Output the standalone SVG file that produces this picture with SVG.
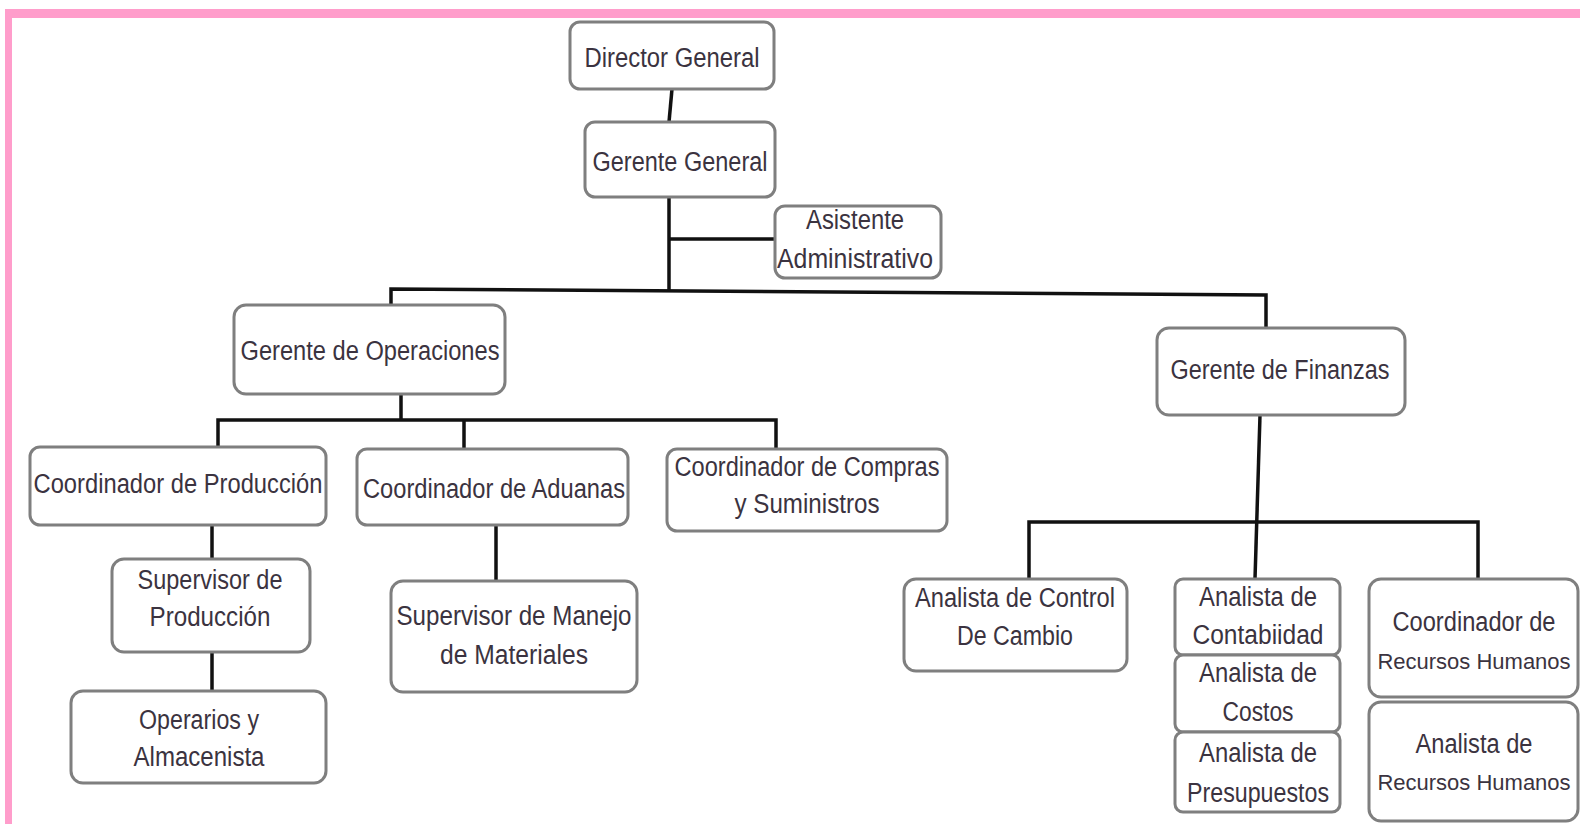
<svg xmlns="http://www.w3.org/2000/svg" width="1580" height="824" viewBox="0 0 1580 824">
<style>
.box{fill:#fff;stroke:#7f7f7f;stroke-width:3}
.t{font-family:"Liberation Sans Narrow","Liberation Sans",sans-serif;font-size:27px;fill:#3b3340;text-anchor:middle}
.s{font-size:22px}
.c{fill:none;stroke:#111;stroke-width:3.5;stroke-linejoin:miter}
</style>
<rect x="0" y="0" width="1580" height="824" fill="#fff"/>
<g id="frame">
<rect x="5" y="9" width="1575" height="9" fill="#ff9dcb"/>
<rect x="5" y="9" width="7" height="815" fill="#ff9dcb"/>
</g>
<g id="connectors">
<path class="c" d="M672,89 L669,122"/>
<path class="c" d="M669,196 V291 M669,239 H775"/>
<path class="c" d="M391,305 V289 L1266,295 V328"/>
<path class="c" d="M401,394 V420 M218,447 V420 H776 V449 M464,420 V449"/>
<path class="c" d="M212,525 V559 M212,652 V691"/>
<path class="c" d="M496,525 V581"/>
<path class="c" d="M1260,415 L1255,579"/>
<path class="c" d="M1029,579 V522 H1478 V579"/>
</g>
<g id="n-director">
<rect class="box" x="570" y="22" width="204" height="67" rx="10"/>
<text class="t" x="672" y="67" textLength="175" lengthAdjust="spacingAndGlyphs">Director General</text>
</g>
<g id="n-gerente-general">
<rect class="box" x="585" y="122" width="190" height="75" rx="10"/>
<text class="t" x="680" y="171" textLength="175" lengthAdjust="spacingAndGlyphs">Gerente General</text>
</g>
<g id="n-asistente">
<rect class="box" x="775" y="206" width="166" height="72" rx="10"/>
<text class="t" x="855" y="229" textLength="98" lengthAdjust="spacingAndGlyphs">Asistente</text>
<text class="t" x="855" y="268" textLength="156" lengthAdjust="spacingAndGlyphs">Administrativo</text>
</g>
<g id="n-gerente-operaciones">
<rect class="box" x="234" y="305" width="271" height="89" rx="12"/>
<text class="t" x="370" y="360" textLength="259" lengthAdjust="spacingAndGlyphs">Gerente de Operaciones</text>
</g>
<g id="n-gerente-finanzas">
<rect class="box" x="1157" y="328" width="248" height="87" rx="12"/>
<text class="t" x="1280" y="379" textLength="219" lengthAdjust="spacingAndGlyphs">Gerente de Finanzas</text>
</g>
<g id="n-coord-produccion">
<rect class="box" x="30" y="447" width="296" height="78" rx="10"/>
<text class="t" x="178" y="493" textLength="289" lengthAdjust="spacingAndGlyphs">Coordinador de Producción</text>
</g>
<g id="n-coord-aduanas">
<rect class="box" x="357" y="449" width="271" height="76" rx="10"/>
<text class="t" x="494" y="498" textLength="262" lengthAdjust="spacingAndGlyphs">Coordinador de Aduanas</text>
</g>
<g id="n-coord-compras">
<rect class="box" x="667" y="449" width="280" height="82" rx="10"/>
<text class="t" x="807" y="476" textLength="265" lengthAdjust="spacingAndGlyphs">Coordinador de Compras</text>
<text class="t" x="807" y="513" textLength="145" lengthAdjust="spacingAndGlyphs">y Suministros</text>
</g>
<g id="n-supervisor-produccion">
<rect class="box" x="112" y="559" width="198" height="93" rx="12"/>
<text class="t" x="210" y="589" textLength="145" lengthAdjust="spacingAndGlyphs">Supervisor de</text>
<text class="t" x="210" y="626" textLength="121" lengthAdjust="spacingAndGlyphs">Producción</text>
</g>
<g id="n-operarios">
<rect class="box" x="71" y="691" width="255" height="92" rx="12"/>
<text class="t" x="199" y="729" textLength="120" lengthAdjust="spacingAndGlyphs">Operarios y</text>
<text class="t" x="199" y="766" textLength="131" lengthAdjust="spacingAndGlyphs">Almacenista</text>
</g>
<g id="n-supervisor-materiales">
<rect class="box" x="391" y="581" width="246" height="111" rx="12"/>
<text class="t" x="514" y="625" textLength="235" lengthAdjust="spacingAndGlyphs">Supervisor de Manejo</text>
<text class="t" x="514" y="664" textLength="148" lengthAdjust="spacingAndGlyphs">de Materiales</text>
</g>
<g id="n-analista-cambio">
<rect class="box" x="904" y="579" width="223" height="92" rx="12"/>
<text class="t" x="1015" y="607" textLength="200" lengthAdjust="spacingAndGlyphs">Analista de Control</text>
<text class="t" x="1015" y="645" textLength="116" lengthAdjust="spacingAndGlyphs">De Cambio</text>
</g>
<g id="n-analista-contabilidad">
<rect class="box" x="1175" y="579" width="165" height="76" rx="8"/>
<text class="t" x="1258" y="606" textLength="118" lengthAdjust="spacingAndGlyphs">Analista de</text>
<text class="t" x="1258" y="644" textLength="131" lengthAdjust="spacingAndGlyphs">Contabiidad</text>
</g>
<g id="n-analista-costos">
<rect class="box" x="1175" y="655" width="165" height="77" rx="8"/>
<text class="t" x="1258" y="682" textLength="118" lengthAdjust="spacingAndGlyphs">Analista de</text>
<text class="t" x="1258" y="721" textLength="71" lengthAdjust="spacingAndGlyphs">Costos</text>
</g>
<g id="n-analista-presupuestos">
<rect class="box" x="1175" y="732" width="165" height="80" rx="8"/>
<text class="t" x="1258" y="762" textLength="118" lengthAdjust="spacingAndGlyphs">Analista de</text>
<text class="t" x="1258" y="802" textLength="142" lengthAdjust="spacingAndGlyphs">Presupuestos</text>
</g>
<g id="n-coord-rrhh">
<rect class="box" x="1369" y="579" width="209" height="118" rx="12"/>
<text class="t" x="1474" y="631" textLength="163" lengthAdjust="spacingAndGlyphs">Coordinador de</text>
<text class="t s" x="1474" y="669">Recursos Humanos</text>
</g>
<g id="n-analista-rrhh">
<rect class="box" x="1369" y="702" width="209" height="119" rx="12"/>
<text class="t" x="1474" y="753" textLength="117" lengthAdjust="spacingAndGlyphs">Analista de</text>
<text class="t s" x="1474" y="790">Recursos Humanos</text>
</g>
</svg>
